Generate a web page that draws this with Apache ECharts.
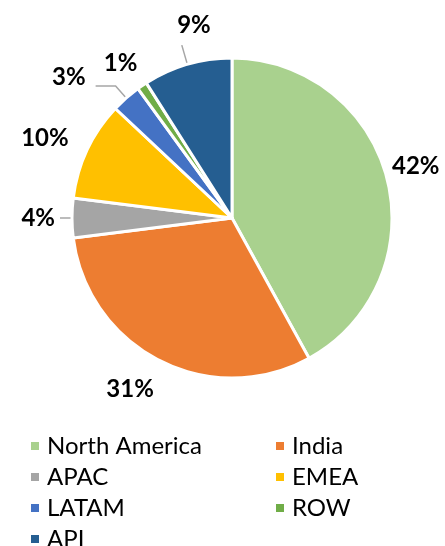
<!DOCTYPE html>
<html>
<head>
<meta charset="utf-8">
<script src="https://cdn.jsdelivr.net/npm/echarts@6/dist/echarts.min.js"></script>
<style>
  html, body { margin: 0; padding: 0; background: #fff; }
  #chart { width: 445px; height: 546px; }
</style>
</head>
<body>
<div id="chart"></div>
<script>
// Chart data
const regions = ['North America', 'India', 'APAC', 'EMEA', 'LATAM', 'ROW', 'API'];
const shares = [42, 31, 4, 10, 3, 1, 9];
const colors = ['#A9D18E', '#ED7D31', '#A5A5A5', '#FFC000', '#4472C4', '#70AD47', '#255E91'];

const leftLegend = ['North America', 'APAC', 'LATAM', 'API'];
const rightLegend = ['India', 'EMEA', 'ROW'];

const font = 'Lato, "Open Sans", sans-serif';

// label leader lines: [show, length, length2] and small nudges, per slice
const leader = [
  [false, 0, 0], [false, 32, 0], [true, 2, 10], [false, 15, 0],
  [true, 16, 20], [false, 10, 0], [true, 20, 0],
];
const nudge = [[0, -12], [14, 0], [0, 0], [0, -5], [-5, -9], [6, -14], [34, -20]];

const legendBase = {
  orient: 'vertical',
  top: 429,
  height: 120,
  icon: 'rect',
  itemWidth: 10,
  itemHeight: 10,
  itemGap: 7,
  textStyle: { fontFamily: font, fontSize: 24, lineHeight: 24, color: '#000', padding: [0, 0, 0, 2] },
};

const chart = echarts.init(document.getElementById('chart'));
chart.setOption({
  animation: false,
  color: colors,
  legend: [
    Object.assign({ left: 24, data: leftLegend }, legendBase),
    Object.assign({ left: 269, data: rightLegend }, legendBase),
  ],
  series: [
    {
      type: 'pie',
      center: [232, 218],
      radius: 160,
      startAngle: 90,
      clockwise: true,
      avoidLabelOverlap: false,
      itemStyle: { borderColor: '#fff', borderWidth: 3 },
      label: {
        position: 'outside',
        formatter: '{d}%',
        fontFamily: font,
        fontWeight: 'bold',
        fontSize: 24,
        color: '#000',
        overflow: 'none',
      },
      labelLine: {
        lineStyle: { color: '#A6A6A6', width: 1.5 },
      },
      labelLayout: (p) => ({ dx: nudge[p.dataIndex][0], dy: nudge[p.dataIndex][1] }),
      emphasis: { disabled: true },
      data: regions.map((r, i) => ({
        name: r,
        value: shares[i],
        labelLine: { show: leader[i][0], length: leader[i][1], length2: leader[i][2] },
      })),
    },
  ],
});
</script>
</body>
</html>
